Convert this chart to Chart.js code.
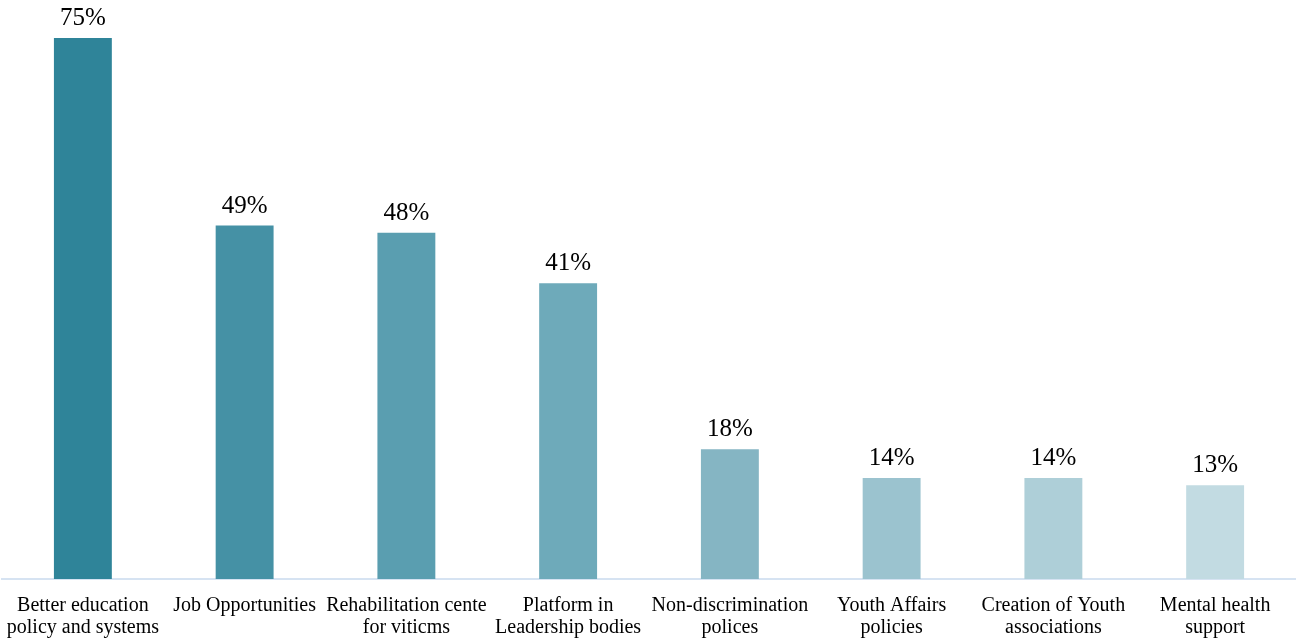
<!DOCTYPE html>
<html>
<head>
<meta charset="utf-8">
<script src="https://cdn.jsdelivr.net/npm/chart.js@4"></script>
<style>
html,body{margin:0;padding:0;background:#fff;}
#wrap{width:1296px;height:638px;position:relative;}
</style>
</head>
<body>
<div id="wrap"><canvas id="c" width="1296" height="638"></canvas></div>
<script>
const categories = [
  ["Better education", "policy and systems"],
  ["Job Opportunities"],
  ["Rehabilitation cente", "for viticms"],
  ["Platform in", "Leadership bodies"],
  ["Non-discrimination", "polices"],
  ["Youth Affairs", "policies"],
  ["Creation of Youth", "associations"],
  ["Mental health", "support"]
];
const values = [75, 49, 48, 41, 18, 14, 14, 13];
const barColors = ["#2F8499", "#4591A5", "#5A9EB0", "#6EAABA", "#85B5C3", "#9BC3CF", "#AECFD8", "#C2DBE2"];

const FONT = "'Liberation Serif', 'DejaVu Serif', serif";

const valueLabels = {
  id: 'valueLabels',
  afterDatasetsDraw(chart) {
    const ctx = chart.ctx;
    const meta = chart.getDatasetMeta(0);
    ctx.save();
    ctx.font = "25px " + FONT;
    ctx.fillStyle = "#000";
    ctx.textAlign = "center";
    ctx.textBaseline = "alphabetic";
    meta.data.forEach((bar, i) => {
      ctx.fillText(values[i] + "%", bar.x, bar.y - 13);
    });
    ctx.restore();
  }
};

new Chart(document.getElementById('c'), {
  type: 'bar',
  data: {
    labels: categories,
    datasets: [{
      data: values,
      backgroundColor: barColors,
      borderWidth: 0,
      categoryPercentage: 1,
      barPercentage: 0.358
    }]
  },
  options: {
    responsive: false,
    animation: false,
    layout: { padding: { left: 2, right: 0, top: 2, bottom: -17 } },
    plugins: { legend: { display: false }, tooltip: { enabled: false } },
    scales: {
      y: {
        display: false,
        min: 0,
        max: 80
      },
      x: {
        grid: { display: false, drawTicks: false },
        border: { display: true, color: "#D6E3F2", width: 2 },
        afterFit(scale) { scale.paddingLeft = 0; scale.paddingRight = 0; },
        ticks: {
          color: "#000",
          font: { family: FONT, size: 20, lineHeight: 1.1 },
          padding: 16,
          maxRotation: 0,
          autoSkip: false
        }
      }
    }
  },
  plugins: [valueLabels]
});
</script>
</body>
</html>
